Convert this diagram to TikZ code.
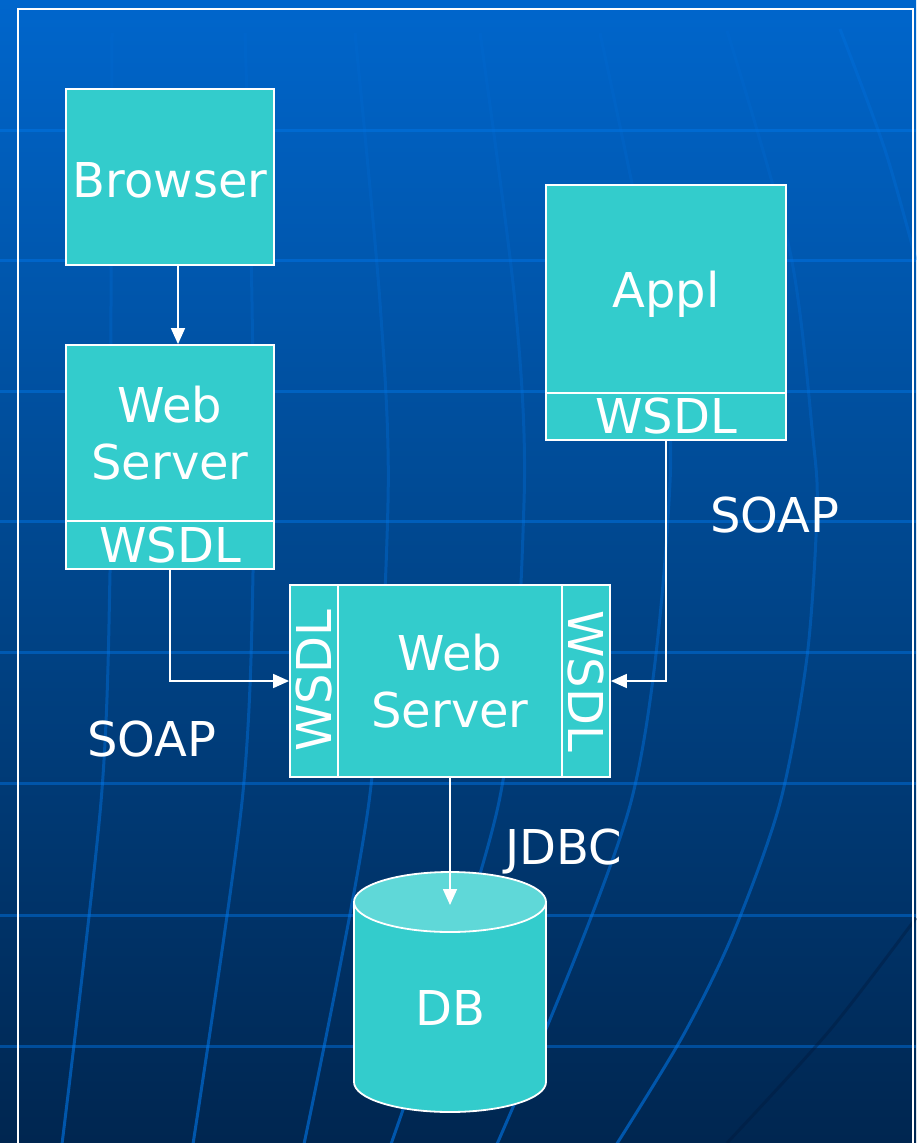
\documentclass[tikz,border=0pt]{standalone}
\usepackage{fontspec}
\setmainfont{DejaVu Sans}
\usetikzlibrary{arrows.meta,fadings}
\definecolor{boxfill}{RGB}{51,204,204}
\definecolor{dbtopfill}{RGB}{95,216,216}
\definecolor{bgtop}{RGB}{0,102,204}
\definecolor{bgmid}{RGB}{0,70,140}
\definecolor{bgbot}{RGB}{0,38,80}
\definecolor{gridc}{RGB}{0,120,235}
\definecolor{darkarc}{RGB}{0,25,60}
\tikzfading[name=fadeup, top color=transparent!85, bottom color=transparent!0]
\begin{document}
\begin{tikzpicture}[x=1pt,y=-1pt,
  box/.style={draw=white, line width=1.8pt, fill=boxfill, text=white, inner sep=0pt,
              align=center, font=\fontsize{48}{57}\selectfont},
  lbl/.style={text=white, inner sep=0pt, font=\fontsize{48}{57}\selectfont},
  conn/.style={draw=white, line width=1.6pt, -{Triangle[length=16pt,width=14pt]}},
  gridline/.style={draw=gridc, opacity=0.45, line width=3pt},
  curveline/.style={draw=gridc, opacity=0.6, line width=3pt, path fading=fadeup},
  darkline/.style={draw=darkarc, opacity=0.4, line width=3pt}]
\useasboundingbox (0,0) rectangle (916,1143);
% background
\fill[top color=bgtop, bottom color=bgbot, middle color=bgmid] (0,0) rectangle (916,1143);
% horizontal grid lines
\foreach \yy in {130,260,391,521,652,783,915,1046}
  \draw[gridline] (0,\yy) -- (916,\yy);
% curved grid lines
\draw[curveline] plot[smooth] coordinates {(112,30) (111,300) (110,570) (101,800) (62,1143)};
\draw[curveline] plot[smooth] coordinates {(245,30) (252,300) (253,570) (242,800) (193,1143)};
\draw[curveline] plot[smooth] coordinates {(355,30) (380,300) (388,500) (369,800) (304,1143)};
\draw[curveline] plot[smooth] coordinates {(480,30) (515,300) (524,500) (499,800) (391,1143)};
\draw[curveline] plot[smooth] coordinates {(600,30) (655,300) (670,480) (631,800) (497,1143)};
\draw[curveline] plot[smooth] coordinates {(727,29) (790,250) (813,437) (817,510) (807,656) (780,802) (733,933) (683,1035) (617,1143)};
\draw[gridline, opacity=0.25] plot[smooth] coordinates {(840,29) (885,150) (916,260)};
\draw[darkline] plot[smooth] coordinates {(916,918) (830,1030) (727,1143)};
% frame
\draw[white, line width=2pt] (18,1150) -- (18,9) -- (913,9) -- (913,1150);
% boxes
\node[box, minimum width=208pt, minimum height=176pt, text height=42pt] (browser) at (170,177) {Browser};
\node[box, minimum width=208pt, minimum height=176pt] (ws1) at (170,433) {Web\\Server};
\node[box, minimum width=208pt, minimum height=48pt] (ws1w) at (170,545) {WSDL};
\node[box, minimum width=240pt, minimum height=208pt, text depth=0pt] (appl) at (666,289) {Appl};
\node[box, minimum width=240pt, minimum height=47pt] (applw) at (666,416.5) {WSDL};
\node[box, minimum width=224pt, minimum height=192pt] (ws2m) at (450,681) {Web\\Server};
\node[box, rotate=90, minimum width=192pt, minimum height=48pt] (ws2l) at (314,681) {WSDL};
\node[box, rotate=-90, minimum width=192pt, minimum height=48pt] (ws2r) at (586,681) {WSDL};
% database
\path[fill=boxfill, draw=white, line width=1.8pt] (354,902) -- (354,1082)
  arc[start angle=180, end angle=360, x radius=96pt, y radius=30pt] -- (546,902);
\draw[fill=dbtopfill, draw=white, line width=1.8pt] (450,902) ellipse[x radius=96pt, y radius=30pt];
\node[lbl] (db) at (450,1008) {DB};
\coordinate (dbin) at (450,905);
% labels
\node[lbl] (soap1) at (775,515) {SOAP};
\node[lbl] (soap2) at (152,739) {SOAP};
\node[lbl] (jdbc) at (564,851) {JDBC};
% connectors
\draw[conn] ([xshift=8pt]browser.south) -- ([xshift=8pt]ws1.north);
\draw[conn] (ws1w.south) |- (ws2l.north);
\draw[conn] (applw.south) |- (ws2r.north);
\draw[conn] (ws2m.south) -- (dbin);
\end{tikzpicture}
\end{document}
